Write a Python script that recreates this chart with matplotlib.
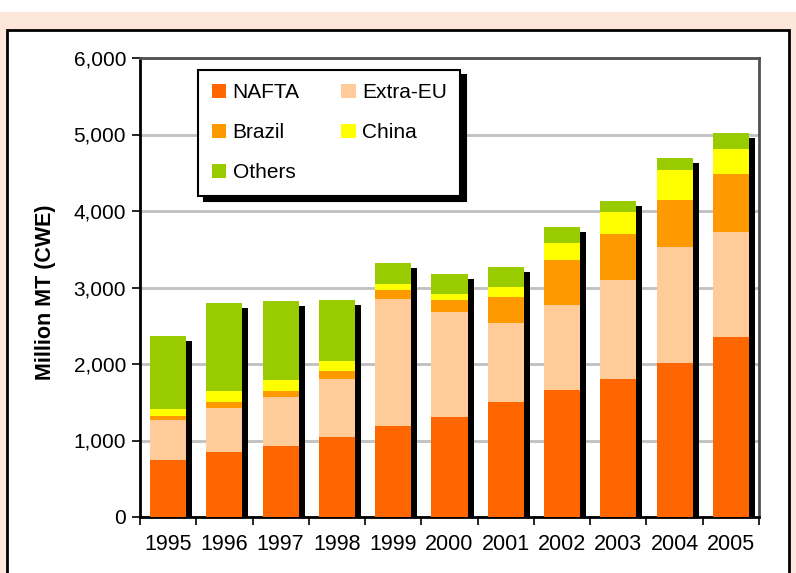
import matplotlib
matplotlib.use("Agg")
import matplotlib.pyplot as plt
from matplotlib.patches import Rectangle
from matplotlib.ticker import FuncFormatter, FixedLocator
import numpy as np

plt.rcParams["font.family"] = ["Liberation Sans", "DejaVu Sans"]

years = ["1995", "1996", "1997", "1998", "1999", "2000",
         "2001", "2002", "2003", "2004", "2005"]

# million MT (CWE)
nafta = [745, 850, 928, 1046, 1190, 1307, 1503, 1660, 1804, 2013, 2353]
extra_eu = [523, 575, 641, 758, 1660, 1373, 1033, 1111, 1294, 1516, 1372]
brazil = [52, 78, 78, 104, 117, 157, 340, 588, 601, 615, 759]
china = [92, 144, 144, 131, 79, 78, 131, 223, 288, 392, 326]
others = [954, 1150, 1033, 798, 274, 261, 261, 209, 144, 157, 210]

series = [
    ("NAFTA", nafta, "#FF6600"),
    ("Extra-EU", extra_eu, "#FFCC99"),
    ("Brazil", brazil, "#FF9900"),
    ("China", china, "#FFFF00"),
    ("Others", others, "#99CC00"),
]

fig = plt.figure(figsize=(7.96, 5.73), dpi=100)

# peach band behind a black framed white panel
fig.patches.append(Rectangle((0, 0), 1, 1 - 12 / 573, transform=fig.transFigure,
                             facecolor="#FDE6DA", edgecolor="none", zorder=-10))
fig.patches.append(Rectangle((7 / 796, -0.02), 782 / 796, 1 - 30 / 573 + 0.02,
                             transform=fig.transFigure, facecolor="white",
                             edgecolor="black", linewidth=2, zorder=-9))

ax = fig.add_axes([140 / 796, 1 - 517 / 573, 619 / 796, 459 / 573])
ax.set_facecolor("none")

x = np.arange(len(years))
width = 0.64
totals = np.sum([s[1] for s in series], axis=0)

# drop shadow behind each stack
ax.bar(x + 0.107, totals - 65, width, color="black", zorder=2)

bottom = np.zeros(len(years))
handles = {}
for name, vals, color in series:
    handles[name] = ax.bar(x, vals, width, bottom=bottom, color=color,
                           label=name, zorder=3)
    bottom += np.array(vals)

ax.set_xlim(-0.5, len(years) - 0.5)
ax.set_ylim(0, 6000)
ax.set_yticks(np.arange(0, 6001, 1000))
ax.yaxis.set_major_formatter(FuncFormatter(lambda v, p: f"{int(v):,}"))
ax.yaxis.grid(True, color="#C0C0C0", linewidth=2, zorder=0)
ax.set_axisbelow(True)

ax.set_xticks(x)
ax.set_xticklabels(years)
ax.xaxis.set_minor_locator(FixedLocator(np.arange(-0.5, len(years), 1.0)))
ax.tick_params(axis="x", which="major", length=0, pad=12, labelsize=15.5)
ax.tick_params(axis="x", which="minor", length=6, width=1.2)
ax.tick_params(axis="y", length=6, width=1.2, pad=4, labelsize=15)

for side in ["left", "bottom"]:
    ax.spines[side].set_color("black")
    ax.spines[side].set_linewidth(2)
for side in ["top", "right"]:
    ax.spines[side].set_color("#505050")
    ax.spines[side].set_linewidth(2)

ax.set_ylabel("Million MT (CWE)", fontsize=15.5, fontweight="bold")
ax.yaxis.set_label_coords(-0.136, 0.49)

order = ["NAFTA", "Brazil", "Others", "Extra-EU", "China"]
leg = ax.legend([handles[n] for n in order], order, ncol=2,
                loc="upper left", bbox_to_anchor=(0.094, 0.974),
                borderaxespad=0, fontsize=15, frameon=True, fancybox=False,
                framealpha=1, edgecolor="black", handlelength=0.7,
                handleheight=0.7, handletextpad=0.3, labelspacing=1.0,
                columnspacing=2.0, borderpad=0.65,
                shadow={"ox": 4, "oy": -4, "color": "black", "alpha": 1})
leg.get_frame().set_linewidth(1.5)
leg.set_zorder(10)

plt.savefig("out.png", dpi=100)
plt.close()
